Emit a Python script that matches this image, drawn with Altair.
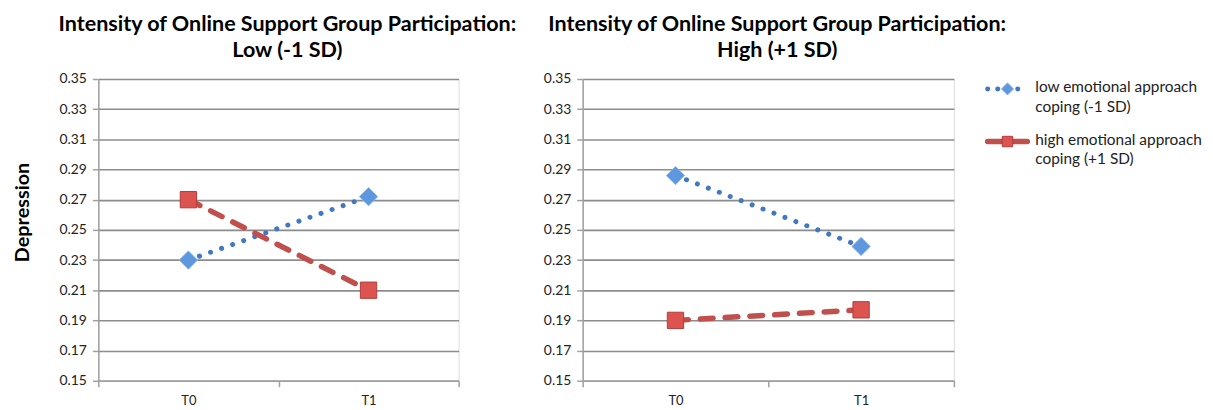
import altair as alt
import pandas as pd

times = ["T0", "T1"]
series = ["low emotional approach coping (-1 SD)", "high emotional approach coping (+1 SD)"]
series_labels = [["low emotional approach", "coping (-1 SD)"], ["high emotional approach", "coping (+1 SD)"]]
low_panel_low_emo = [0.230, 0.272]
low_panel_high_emo = [0.270, 0.210]
high_panel_low_emo = [0.286, 0.239]
high_panel_high_emo = [0.190, 0.197]
y_ticks = [0.15, 0.17, 0.19, 0.21, 0.23, 0.25, 0.27, 0.29, 0.31, 0.33, 0.35]

panel_titles = [
    ["Intensity of Online Support Group Participation:", "Low (-1 SD)"],
    ["Intensity of Online Support Group Participation:", "High (+1 SD)"],
]

FONT = "Lato"
BLUE_LINE = "#4178c0"
RED_LINE = "#c0504d"
DIAMOND_FILL = "#5d97dd"
DIAMOND_STROKE = "#8db6ea"
SQUARE_FILL = "#dc5350"
SQUARE_STROKE = "#b23c39"


def make_df(low_vals, high_vals):
    rows = []
    for t, v in zip(times, low_vals):
        rows.append({"time": t, "value": v, "series": series[0]})
    for t, v in zip(times, high_vals):
        rows.append({"time": t, "value": v, "series": series[1]})
    return pd.DataFrame(rows)


def panel_layers(df, show_ytitle):
    x = alt.X("time:N", scale=alt.Scale(type="band", domain=times, paddingInner=0, paddingOuter=0),
              axis=alt.Axis(title=None, tickBand="extent", labelAngle=0, labelFont=FONT, labelFontSize=13,
                            labelColor="#222", labelPadding=8, tickSize=6, tickColor="#a0a0a0",
                            tickWidth=1.5, domainColor="#a0a0a0", domainWidth=1.5, grid=False))
    y = alt.Y("value:Q", scale=alt.Scale(domain=[0.15, 0.35], nice=False, zero=False),
              axis=alt.Axis(values=y_ticks, format=".2f", title="Depression" if show_ytitle else None,
                            titleFont=FONT, titleFontSize=20, titleFontWeight="bold", titleColor="#000",
                            titlePadding=27, titleY=134,
                            labelFont=FONT, labelFontSize=14, labelColor="#222", labelPadding=6,
                            tickSize=6, tickColor="#a0a0a0", tickWidth=1.5,
                            domainColor="#a0a0a0", domainWidth=1.5,
                            grid=True, gridColor="#8c8c8c", gridWidth=1.6))
    base = alt.Chart(df)
    f_low = alt.datum.series == series[0]
    f_high = alt.datum.series == series[1]
    low_line = base.transform_filter(f_low).mark_line(
        color=BLUE_LINE, strokeWidth=5, strokeDash=[0.1, 11.7], strokeCap="round").encode(x=x, y=y)
    high_line = base.transform_filter(f_high).mark_line(
        color=RED_LINE, strokeWidth=5.5, strokeDash=[13, 12], strokeCap="round").encode(x=x, y=y)
    low_pts = base.transform_filter(f_low).mark_point(
        shape="diamond", size=340, filled=True, fill=DIAMOND_FILL, stroke=DIAMOND_STROKE,
        strokeWidth=1, opacity=1).encode(x=x, y=y)
    high_pts = base.transform_filter(f_high).mark_point(
        shape="square", size=270, filled=True, fill=SQUARE_FILL, stroke=SQUARE_STROKE,
        strokeWidth=1, opacity=1).encode(x=x, y=y)
    return alt.layer(low_line, high_line, low_pts, high_pts)


def title_params(text):
    return alt.TitleParams(text=text, font=FONT, fontSize=21.7, fontWeight="bold", color="#000",
                           anchor="middle", lineHeight=27, offset=10, dx=9)


# legend layers (drawn to the right of the second panel)
legend_df = pd.DataFrame({"series": series, "label": series_labels})
leg_y = alt.Y("series:N", scale=alt.Scale(type="point", domain=series, range=[10, 63], padding=0),
              axis=None)
leg_base = alt.Chart(legend_df)
LX0 = 406
leg_line_low = leg_base.transform_filter(alt.datum.series == series[0]).mark_rule(
    color=BLUE_LINE, strokeWidth=5, strokeDash=[0.1, 10], strokeCap="round").encode(
    x=alt.value(LX0 + 2), x2=alt.value(LX0 + 42), y=leg_y)
leg_line_high = leg_base.transform_filter(alt.datum.series == series[1]).mark_rule(
    color=RED_LINE, strokeWidth=5.5, strokeCap="round").encode(
    x=alt.value(LX0 + 2), x2=alt.value(LX0 + 42), y=leg_y)
leg_pt_low = leg_base.transform_filter(alt.datum.series == series[0]).mark_point(
    shape="diamond", size=150, filled=True, fill=DIAMOND_FILL, stroke=DIAMOND_STROKE,
    strokeWidth=1, opacity=1).encode(x=alt.value(LX0 + 22), y=leg_y)
leg_pt_high = leg_base.transform_filter(alt.datum.series == series[1]).mark_point(
    shape="square", size=110, filled=True, fill=SQUARE_FILL, stroke=SQUARE_STROKE,
    strokeWidth=1, opacity=1).encode(x=alt.value(LX0 + 22), y=leg_y)
leg_text = leg_base.mark_text(align="left", baseline="top", font=FONT, fontSize=15.5, color="#222",
                              lineHeight=20, dy=-9).encode(
    x=alt.value(LX0 + 50), y=leg_y, text="label")
legend_layers = alt.layer(leg_line_low, leg_line_high, leg_pt_low, leg_pt_high, leg_text)

left = panel_layers(make_df(low_panel_low_emo, low_panel_high_emo), True).properties(
    width=363, height=304, title=title_params(panel_titles[0]))
right = alt.layer(
    panel_layers(make_df(high_panel_low_emo, high_panel_high_emo), False),
    legend_layers,
).resolve_scale(y="independent").properties(
    width=374, height=304, title=title_params(panel_titles[1]))

chart = alt.hconcat(left, right, spacing=125, bounds="flush").properties(
    padding={"left": 3, "top": 3, "right": 2, "bottom": 5}
).configure_view(stroke=None).configure(background="white")

chart.save("out.html", embed_options={"renderer": "svg", "actions": False})
